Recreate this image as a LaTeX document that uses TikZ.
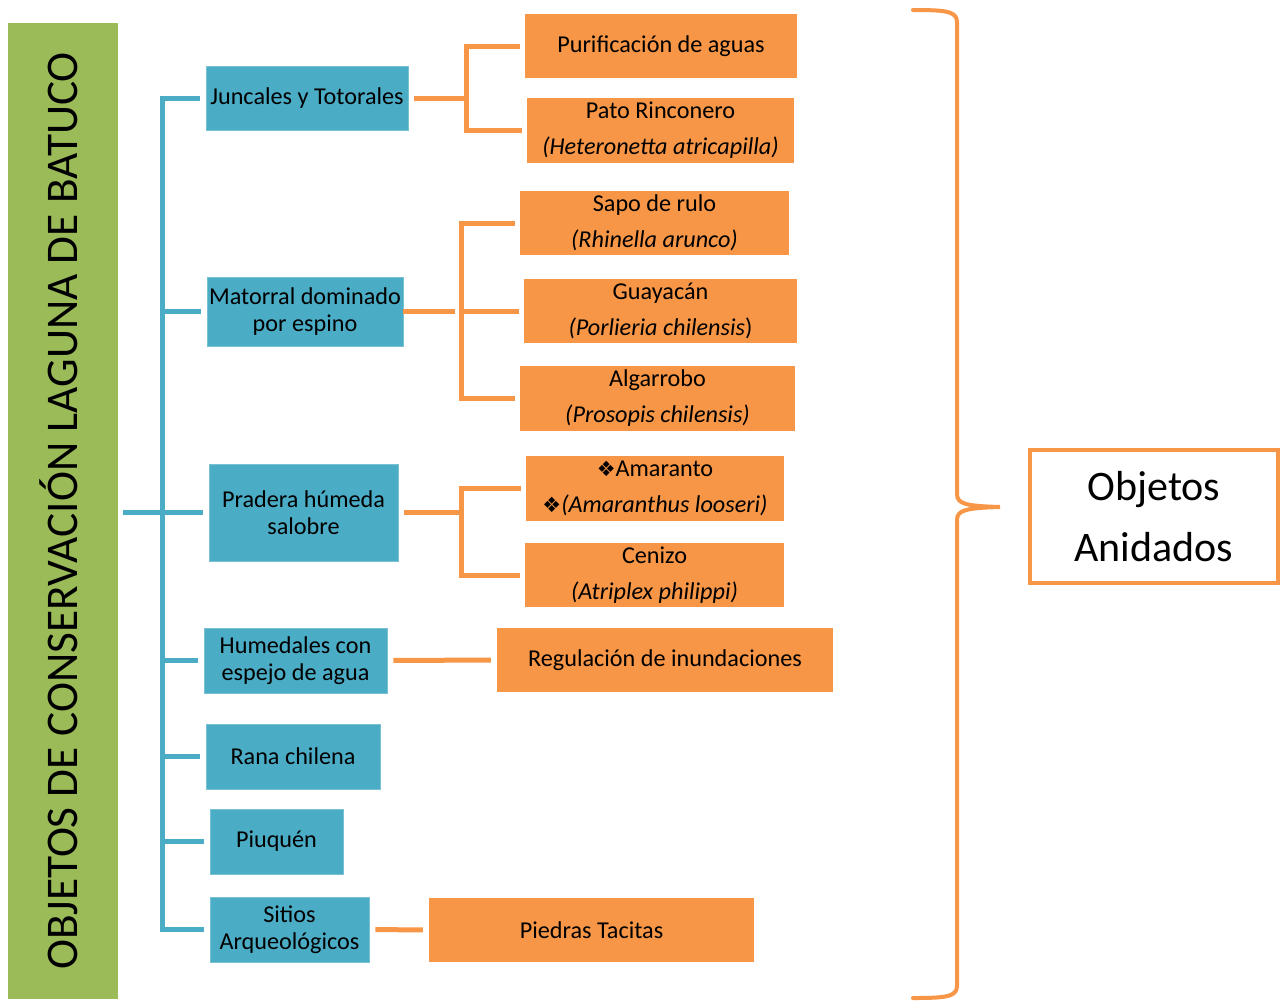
\documentclass[tikz,border=0pt]{standalone}
\usepackage{fontspec}
\setmainfont{Carlito}
\newfontfamily\symfont{DejaVu Sans}

\definecolor{boxgreen}{HTML}{9BBB59}
\definecolor{boxblue}{HTML}{4BACC6}
\definecolor{boxorange}{HTML}{F79646}

\newcommand{\diamondmark}{{\symfont\fontsize{21}{21}\selectfont ❖}}

\tikzstyle{bluebox}=[rectangle, fill=boxblue, draw=boxblue!75!white, line width=0.8pt,
                     inner sep=0, align=center, font=\fontsize{24.2}{27}\selectfont]
\tikzstyle{orangebox}=[rectangle, fill=boxorange,
                       inner sep=0, align=center, font=\fontsize{24.2}{36}\selectfont]
\tikzstyle{blueline}=[draw=boxblue, line width=5pt]
\tikzstyle{orangeline}=[draw=boxorange, line width=5pt]
\tikzstyle{bigbrace}=[draw=boxorange, line width=4pt, line cap=round]

\begin{document}
\begin{tikzpicture}[x=1pt, y=-1pt]
  \useasboundingbox (0, 0) rectangle (1284, 1001);

  %%%%%%%%%%%%%%%%%%%%%%%%%%%%%%
  %%%%%%%%%%%%%%%%%%%%%%%%%%%%%%
  % objetos de conservacion

  %%%%%%%%%%%%%%%%%%%%%%%%%%%%%%
  % nodes
  % root
  \node (batuco) at (63, 511) [rotate=90, fill=boxgreen, inner sep=0,
        minimum width=976pt, minimum height=110pt, text height=29pt, text depth=0pt,
        font=\fontsize{45.3}{54}\selectfont] {OBJETOS DE CONSERVACIÓN LAGUNA DE BATUCO};

  % blue
  \node (juncales) at (307, 98) [bluebox, minimum width=202pt, minimum height=64pt] {Juncales y Totorales};

  \node (matorral) at (305, 311.5) [bluebox, minimum width=196pt, minimum height=69pt] {Matorral dominado\\por espino};

  \node (pradera) at (303.5, 512.5) [bluebox, minimum width=189pt, minimum height=97pt] {Pradera húmeda\\salobre};

  \node (humedales) at (295.5, 660.5) [bluebox, minimum width=183pt, minimum height=65pt] {Humedales con\\espejo de agua};

  \node (rana) at (293, 756.5) [bluebox, minimum width=174pt, minimum height=65pt] {Rana chilena};

  \node (piuquen) at (276.5, 841.5) [bluebox, minimum width=133pt, minimum height=65pt] {Piuquén};

  \node (sitios) at (289.5, 929.5) [bluebox, minimum width=159pt, minimum height=65pt] {Sitios\\Arqueológicos};

  % orange
  \node (purif) at (661, 46) [orangebox, minimum width=272pt, minimum height=64pt] {Purificación de aguas};

  \node (pato) at (660.5, 130.5) [orangebox, minimum width=267pt, minimum height=65pt] {Pato Rinconero\\\textit{(Heteronetta atricapilla)}};

  \node (sapo) at (654.5, 223) [orangebox, minimum width=269pt, minimum height=64pt] {Sapo de rulo\\\textit{(Rhinella arunco)}};

  \node (guayacan) at (660.5, 311) [orangebox, minimum width=273pt, minimum height=64pt] {Guayacán\\\textit{(Porlieria chilensis})};

  \node (algarrobo) at (657.5, 398.5) [orangebox, minimum width=275pt, minimum height=65pt] {Algarrobo\\\textit{(Prosopis chilensis)}};

  \node (amaranto) at (655, 488.5) [orangebox, minimum width=258pt, minimum height=65pt] {\diamondmark Amaranto\\\diamondmark\textit{(Amaranthus looseri)}};

  \node (cenizo) at (654.5, 575) [orangebox, minimum width=259pt, minimum height=64pt] {Cenizo\\\textit{(Atriplex philippi)}};

  \node (regulacion) at (665, 660) [orangebox, minimum width=336pt, minimum height=64pt] {Regulación de inundaciones};

  \node (piedras) at (591.5, 930) [orangebox, minimum width=325pt, minimum height=64pt] {Piedras Tacitas};

  % nested
  \node (anidados) at (1154, 516.5) [rectangle, draw=boxorange, line width=4pt, fill=white,
        minimum width=248pt, minimum height=133pt, align=center,
        font=\fontsize{42}{61}\selectfont] {Objetos\\Anidados};

  %%%%%%%%%%%%%%%%%%%%%%%%%%%%%%
  % joints
  \coordinate (trunk) at (162, 512);
  \coordinate (fork_junc) at (466, 98);
  \coordinate (fork_mat) at (461, 311);
  \coordinate (fork_prad) at (461, 512);

  %%%%%%%%%%%%%%%%%%%%%%%%%%%%%%
  % links
  % blue
  \draw [blueline, shorten <=5pt] (batuco.south |- trunk) -- (trunk);
  \draw [blueline, line cap=rect] (juncales.west -| trunk) -- (sitios.west -| trunk);

  \draw [blueline, shorten >=6pt] (juncales.west -| trunk) -- (juncales.west);
  \draw [blueline, shorten >=6pt] (matorral.west -| trunk) -- (matorral.west);
  \draw [blueline, shorten >=6pt] (pradera.west -| trunk) -- (pradera.west);
  \draw [blueline, shorten >=6pt] (humedales.west -| trunk) -- (humedales.west);
  \draw [blueline, shorten >=6pt] (rana.west -| trunk) -- (rana.west);
  \draw [blueline, shorten >=6pt] (piuquen.west -| trunk) -- (piuquen.west);
  \draw [blueline, shorten >=6pt] (sitios.west -| trunk) -- (sitios.west);

  % orange
  \draw [orangeline, shorten <=6pt] (juncales.east) -- (fork_junc);
  \draw [orangeline, shorten <=5pt, shorten >=5pt] (purif.west) -| (fork_junc) |- (pato.west);

  \draw [orangeline, shorten <=6pt] (matorral.east -| fork_mat) -- (matorral.east);
  \draw [orangeline, shorten <=5pt, shorten >=5pt] (sapo.west) -| (fork_mat) |- (algarrobo.west);
  \draw [orangeline, shorten >=5pt] (fork_mat) -- (guayacan.west);

  \draw [orangeline, shorten <=6pt] (pradera.east) -- (pradera.east -| fork_prad);
  \draw [orangeline, shorten <=5pt, shorten >=5pt] (amaranto.west) -| (fork_prad) |- (cenizo.west);

  \draw [orangeline, shorten <=6pt, shorten >=6pt] (humedales.east) -- (regulacion.west);

  \draw [orangeline, shorten <=6pt, shorten >=6pt] (sitios.east) -- (piedras.west);

  %%%%%%%%%%%%%%%%%%%%%%%%%%%%%%
  % brace
  \draw [bigbrace] (913, 10) .. controls (945, 10) and (957, 11) .. (957, 22)
        -- (957, 494) .. controls (957, 504) and (966, 506) .. (1000, 507)
        .. controls (966, 508) and (957, 510) .. (957, 520)
        -- (957, 986) .. controls (957, 997) and (945, 998) .. (913, 998);

\end{tikzpicture}
\end{document}
